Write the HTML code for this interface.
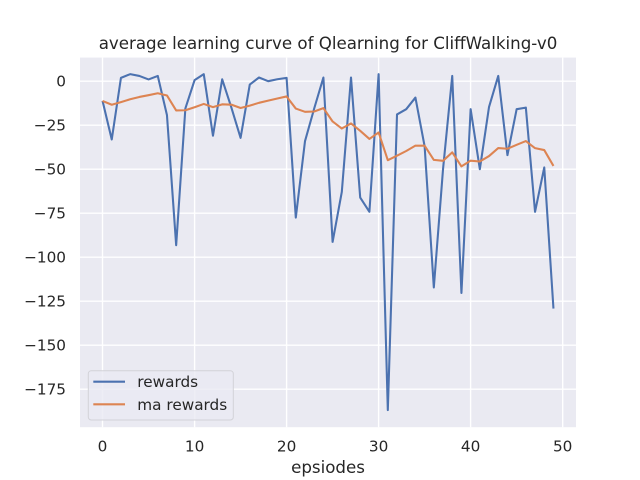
<!DOCTYPE html>
<html>
<head>
<meta charset="utf-8">
<style>
html,body{margin:0;padding:0;background:#ffffff;}
svg{display:block;}
text{font-family:"DejaVu Sans","Liberation Sans",sans-serif;fill:#262626;}
</style>
</head>
<body>
<svg width="640" height="480" viewBox="0 0 640 480" xmlns="http://www.w3.org/2000/svg">
  <rect x="0" y="0" width="640" height="480" fill="#ffffff"/>
  <defs>
    <clipPath id="pa"><rect x="80" y="57.6" width="496" height="369.6"/></clipPath>
  </defs>
  <rect x="80" y="57.6" width="496" height="369.6" fill="#eaeaf2"/>
  <!-- grid -->
  <g stroke="#ffffff" stroke-width="1.4" fill="none">
    <line x1="102.5" y1="57.6" x2="102.5" y2="427.2"/>
    <line x1="194.6" y1="57.6" x2="194.6" y2="427.2"/>
    <line x1="286.6" y1="57.6" x2="286.6" y2="427.2"/>
    <line x1="378.6" y1="57.6" x2="378.6" y2="427.2"/>
    <line x1="470.6" y1="57.6" x2="470.6" y2="427.2"/>
    <line x1="562.7" y1="57.6" x2="562.7" y2="427.2"/>
    <line x1="80" y1="81.2" x2="576" y2="81.2"/>
    <line x1="80" y1="125.2" x2="576" y2="125.2"/>
    <line x1="80" y1="169.2" x2="576" y2="169.2"/>
    <line x1="80" y1="213.2" x2="576" y2="213.2"/>
    <line x1="80" y1="257.2" x2="576" y2="257.2"/>
    <line x1="80" y1="301.2" x2="576" y2="301.2"/>
    <line x1="80" y1="345.2" x2="576" y2="345.2"/>
    <line x1="80" y1="389.2" x2="576" y2="389.2"/>
  </g>
  <!-- series -->
  <g clip-path="url(#pa)">
    <g transform="translate(102.545 81.2) scale(9.2022 -1.76)">
      <polyline fill="none" stroke="#4c72b0" stroke-width="2.08" stroke-linejoin="round" vector-effect="non-scaling-stroke"
        points="0,-11.2 1,-33.1 2,1.9 3,4 4,3 5,1 6,3 7,-19.3 8,-93.2 9,-15.5 10,0.6 11,4 12,-31 13,1.1 14,-15 15,-32.2 16,-1.9 17,2.1 18,0 19,1.1 20,1.9 21,-77.5 22,-34.1 23,-15.5 24,2.1 25,-91.3 26,-62.9 27,2.1 28,-66.1 29,-74.2 30,4 31,-186.9 32,-18.9 33,-15.9 34,-9.3 35,-37 36,-117.2 37,-50 38,3 39,-120.3 40,-15.9 41,-50 42,-14.6 43,3 44,-42 45,-15.9 46,-15 47,-74.2 48,-49 49,-129.2"/>
      <polyline fill="none" stroke="#dd8452" stroke-width="2.08" stroke-linejoin="round" vector-effect="non-scaling-stroke"
        points="0,-11.2 1,-13.39 2,-11.861 3,-10.275 4,-8.947 5,-7.953 6,-6.857 7,-8.102 8,-16.611 9,-16.5 10,-14.79 11,-12.911 12,-14.72 13,-13.138 14,-13.324 15,-15.212 16,-13.88 17,-12.282 18,-11.054 19,-9.838 20,-8.665 21,-15.548 22,-17.403 23,-17.213 24,-15.281 25,-22.883 26,-26.885 27,-23.986 28,-28.198 29,-32.798 30,-29.118 31,-44.896 32,-42.297 33,-39.657 34,-36.622 35,-36.659 36,-44.713 37,-45.242 38,-40.417 39,-48.406 40,-45.155 41,-45.64 42,-42.536 43,-37.982 44,-38.384 45,-36.135 46,-34.022 47,-38.039 48,-39.135 49,-48.142"/>
    </g>
  </g>
  <!-- y tick labels -->
  <g font-size="15.28" text-anchor="end">
    <text x="66" y="86.7">0</text>
    <text x="66" y="130.7">−25</text>
    <text x="66" y="174.7">−50</text>
    <text x="66" y="218.7">−75</text>
    <text x="66" y="262.7">−100</text>
    <text x="66" y="306.7">−125</text>
    <text x="66" y="350.7">−150</text>
    <text x="66" y="394.7">−175</text>
  </g>
  <!-- x tick labels -->
  <g font-size="15.28" text-anchor="middle">
    <text x="102.5" y="451.5">0</text>
    <text x="194.6" y="451.5">10</text>
    <text x="286.6" y="451.5">20</text>
    <text x="378.6" y="451.5">30</text>
    <text x="470.6" y="451.5">40</text>
    <text x="562.7" y="451.5">50</text>
  </g>
  <!-- title and xlabel -->
  <text x="328" y="49" font-size="16.67" text-anchor="middle">average learning curve of Qlearning for CliffWalking-v0</text>
  <text x="328" y="473" font-size="16.67" text-anchor="middle">epsiodes</text>
  <!-- legend -->
  <rect x="88.3" y="370.7" width="145" height="49.3" rx="3" ry="3" fill="#eaeaf2" fill-opacity="0.8" stroke="#d2d2d8" stroke-width="1"/>
  <line x1="93.3" y1="381.7" x2="125" y2="381.7" stroke="#4c72b0" stroke-width="2.08"/>
  <line x1="93.3" y1="404.3" x2="125" y2="404.3" stroke="#dd8452" stroke-width="2.08"/>
  <text x="137.3" y="387.2" font-size="15.28">rewards</text>
  <text x="137.3" y="409.8" font-size="15.28">ma rewards</text>
</svg>
</body>
</html>
